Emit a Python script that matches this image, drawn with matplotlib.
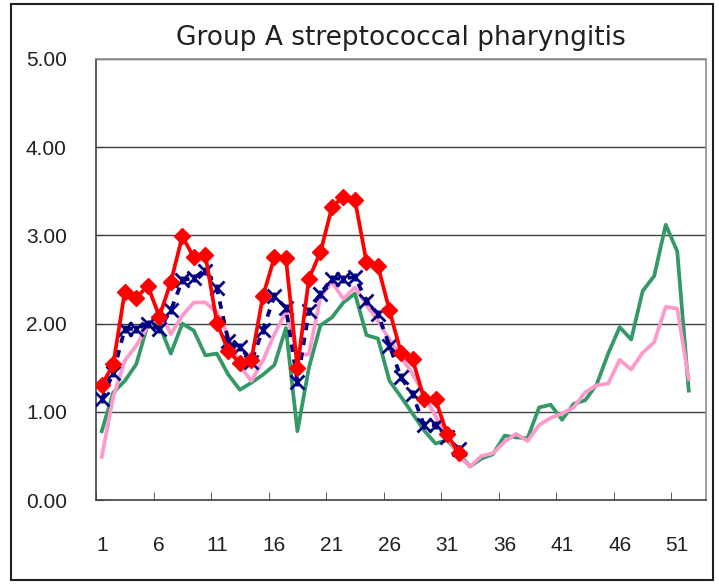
# Group A streptococcal pharyngitis - weekly reports per sentinel
import matplotlib
matplotlib.use('Agg')
import matplotlib.pyplot as plt
import matplotlib.ticker as mticker
from matplotlib.patches import Rectangle

# Dados (semanas 1-52)
red_vals = [1.30, 1.54, 2.36, 2.29, 2.43, 2.08, 2.47, 2.99, 2.75, 2.78,
            2.01, 1.69, 1.55, 1.59, 2.31, 2.75, 2.74, 1.50, 2.51, 2.81,
            3.32, 3.44, 3.40, 2.70, 2.65, 2.15, 1.67, 1.60, 1.15, 1.14,
            0.75, 0.53]
navy_vals = [1.14, 1.44, 1.94, 1.94, 2.00, 1.94, 2.15, 2.49, 2.52, 2.60,
             2.40, 1.80, 1.74, 1.57, 1.93, 2.31, 2.18, 1.34, 2.14, 2.34,
             2.51, 2.51, 2.53, 2.26, 2.11, 1.75, 1.39, 1.20, 0.85, 0.85,
             0.71, 0.58]
pink_vals = [0.49, 1.17, 1.58, 1.75, 1.97, 2.16, 1.88, 2.09, 2.24, 2.24,
             2.13, 1.86, 1.52, 1.35, 1.58, 1.88, 2.13, 1.65, 1.65, 2.30,
             2.47, 2.28, 2.41, 2.21, 2.03, 1.82, 1.62, 1.43, 1.19, 0.95,
             0.72, 0.50, 0.38, 0.50, 0.53, 0.66, 0.75, 0.67, 0.85, 0.93,
             0.98, 1.05, 1.22, 1.30, 1.32, 1.59, 1.48, 1.67, 1.79, 2.19,
             2.17, 1.37]
green_vals = [0.78, 1.22, 1.35, 1.54, 1.99, 1.98, 1.66, 2.00, 1.92, 1.64,
              1.66, 1.42, 1.25, 1.33, 1.42, 1.53, 1.95, 0.78, 1.50, 1.98,
              2.07, 2.24, 2.34, 1.87, 1.83, 1.35, 1.17, 0.98, 0.79, 0.64,
              0.68, 0.53, 0.38, 0.47, 0.52, 0.73, 0.71, 0.70, 1.05, 1.08,
              0.91, 1.09, 1.13, 1.31, 1.66, 1.96, 1.82, 2.37, 2.54, 3.12,
              2.82, 1.24]
week_labels = [1, 6, 11, 16, 21, 26, 31, 36, 41, 46, 51]
y_ticks = [0, 1, 2, 3, 4, 5]

wk_red = list(range(1, len(red_vals) + 1))
wk_navy = list(range(1, len(navy_vals) + 1))
wk_pink = list(range(1, len(pink_vals) + 1))
wk_green = list(range(1, len(green_vals) + 1))

fig = plt.figure(figsize=(7.19, 5.84), dpi=100)
ax = fig.add_axes([96/719, 84/584, 610/719, 441/584])

ax.plot(wk_green, green_vals, color='#339966', lw=2.7, zorder=2)
ax.plot(wk_pink, pink_vals, color='#FF99CC', lw=2.7, zorder=3)
ax.plot(wk_navy, navy_vals, color='#000080', lw=2.7, linestyle=(0, (2, 2)),
        marker='x', markersize=10, markeredgewidth=2.0, zorder=4)
ax.plot(wk_navy, navy_vals, linestyle='none', color='#000080',
        marker='|', markersize=6, markeredgewidth=2.0, zorder=4)
ax.plot(wk_red, red_vals, color='#FF0000', lw=2.7, marker='D',
        markersize=8, zorder=5)

ax.set_xlim(0.5, 53.5)
ax.set_ylim(0, 5)

# Eixo X: rótulos a cada 5 semanas, marcas entre categorias
ax.set_xticks(week_labels)
ax.set_xticklabels([str(w) for w in week_labels])
ax.xaxis.set_minor_locator(mticker.FixedLocator([w + 4.5 for w in week_labels[:-1]] + [0.5]))
ax.tick_params(axis='x', which='major', length=0, pad=26, labelsize=15)
ax.tick_params(axis='x', which='minor', direction='in', length=6, color='#404040')

# Eixo Y
ax.set_yticks(y_ticks)
ax.yaxis.set_major_formatter(mticker.FormatStrFormatter('%.2f'))
ax.tick_params(axis='y', direction='in', length=6, pad=21, labelsize=15, color='#404040')
for lab in ax.get_xticklabels() + ax.get_yticklabels():
    lab.set_fontfamily('Liberation Sans')
    lab.set_color('#202020')

ax.grid(True, axis='y', color='#404040', lw=1.0)
ax.set_axisbelow(True)
ax.spines['left'].set_color('#404040')
ax.spines['bottom'].set_color('#404040')
ax.spines['top'].set_color('#909090')
ax.spines['right'].set_color('#909090')
for s in ax.spines.values():
    s.set_linewidth(1.2)

ax.set_title('Group A streptococcal pharyngitis', fontsize=19,
             fontfamily='DejaVu Sans', color='#202020', pad=10)

# Borda externa do gráfico
fig.patches.append(Rectangle((11/719, 4/584), 702/719, 576/584,
                             transform=fig.transFigure, fill=False,
                             edgecolor='#202020', lw=1.5))

plt.savefig('out.png', dpi=100)
plt.close(fig)
